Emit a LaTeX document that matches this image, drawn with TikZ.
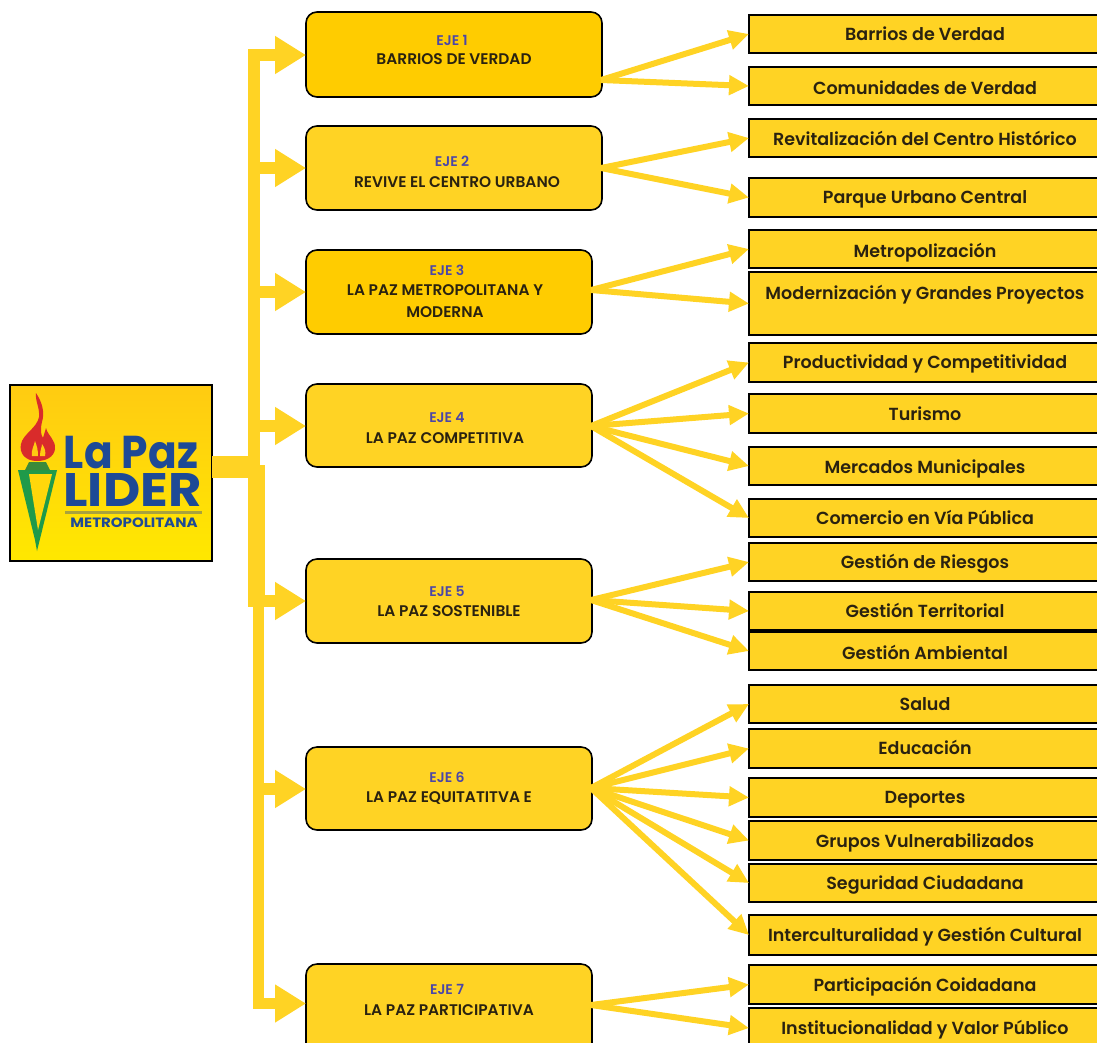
\documentclass[tikz,border=0pt]{standalone}
\usepackage{fontspec}
\setmainfont[BoldFont={Poppins SemiBold}]{Poppins}
\newfontfamily\logofont{Poppins Bold}
\usetikzlibrary{arrows.meta}
\definecolor{gold}{HTML}{FFD324}
\definecolor{amber}{HTML}{FFCC00}
\definecolor{inkblue}{HTML}{4A46A8}
\definecolor{logoblue}{HTML}{1E4A96}
\definecolor{ink}{HTML}{2A2210}
\definecolor{flamered}{HTML}{D92B2B}
\definecolor{conegreen}{HTML}{1F9A4A}
\definecolor{crowngreen}{HTML}{3C8A3A}
\definecolor{logotop}{HTML}{FFCB12}
\definecolor{logobot}{HTML}{FFE800}
\definecolor{rulecol}{HTML}{A9A23C}
\tikzset{
  rightbox/.style={draw=black,line width=1.6pt,fill=gold,anchor=north west,minimum width=353pt,inner sep=0pt,outer sep=0pt},
  leftbox/.style={draw=black,line width=1.6pt,rounded corners=11pt,anchor=north west,inner sep=0pt,outer sep=0pt},
  rtext/.style={font=\fontsize{17.5}{20}\selectfont\bfseries,text=ink,inner sep=0pt,text height=12pt,text depth=0pt},
  ltext/.style={font=\fontsize{15.4}{21.5}\selectfont\bfseries,text=ink,align=center,inner sep=0pt},
  thin arrow/.style={draw=gold,line width=6pt,-{Triangle[length=20pt,width=19pt]}},
  main arrow/.style={draw=gold,line width=11.5pt,-{Triangle[length=31pt,width=36pt]}},
  trunk/.style={fill=gold,draw=none},
}
\newcommand{\rb}[5]{\node[rightbox,minimum height={(#3-#2)*1pt}] (#1) at (749,#2) {};
  \node[rtext] (#1t) at (925,#4) {#5};}
\newcommand{\lb}[7]{\node[leftbox,fill=#4,minimum width={(#3-306)*1pt},minimum height={(#2)*1pt}] (#1) at (306,#5) {};
  \node[ltext] (#1t) at ({(#3+306)/2-2},#6) {\textcolor{inkblue}{\fontsize{14}{21}\selectfont EJE #7}};}
\begin{document}
\begin{tikzpicture}[x=1pt,y=-1pt]
\useasboundingbox (0,0) rectangle (1097,1042);
\fill[white] (0,0) rectangle (1097,1042);

% trunk
\fill[trunk] (248,49) rectangle (260,470);
\fill[trunk] (248,465) rectangle (265,607);
\fill[trunk] (253,600) rectangle (264,1009);

% logo
\node[draw=black,line width=1.6pt,minimum width=202pt,minimum height=176pt,anchor=north west,inner sep=0pt,outer sep=0pt,top color=logotop,bottom color=logobot] (logo) at (10,385) {};
\fill[gold] (212,456) rectangle (250,478);

% cone and flame
\fill[conegreen] (18,470) -- (57,470) -- (37,551) -- (35,540) -- cycle;
\fill[logotop!60!logobot] (29,474) -- (52,474) -- (38,530) -- cycle;
\fill[crowngreen] (25,470) -- (29,462) -- (46,462) -- (50,470) -- cycle;
\fill[flamered] (37,461) .. controls (25,461) and (19,453) .. (21,444)
  .. controls (23,434) and (37,428) .. (39,417)
  .. controls (40,408) and (35,401) .. (36,393)
  .. controls (42,402) and (45,412) .. (42,422)
  .. controls (40,430) and (41,435) .. (43,438)
  .. controls (44,434) and (45,432) .. (46,428)
  .. controls (48,436) and (56,440) .. (55,449)
  .. controls (54,457) and (46,461) .. (37,461) -- cycle;
\fill[logotop] (32,456) .. controls (31,450) and (34,446) .. (35,441)
  .. controls (37,446) and (38,450) .. (38,456) -- cycle;
\fill[logotop] (40,456) .. controls (40,450) and (42,447) .. (42,444)
  .. controls (45,448) and (46,452) .. (45,456) -- cycle;

\node[inner sep=0pt,text=logoblue,font=\logofont\fontsize{46}{46}\selectfont,text height=34pt,text depth=0pt] (lapaz) at (131,451) {\scalebox{0.92}[1]{La Paz}};
\node[inner sep=0pt,text=logoblue,font=\logofont\fontsize{47}{47}\selectfont,text height=33pt,text depth=0pt] (lider) at (132.5,490) {\scalebox{1.09}[1]{LIDER}};
\fill[rulecol] (65,510.5) rectangle (202,513.5);
\node[inner sep=0pt,text=logoblue,font=\logofont\fontsize{13.5}{14}\selectfont,text height=9pt,text depth=0pt] (metro) at (134,522.5) {\scalebox{1.11}[1]{METROPOLITANA}};

% left boxes
\lb{e1}{85}{602}{amber}{12}{40}{1}
\node[ltext] (n1) at (454,59) {BARRIOS DE VERDAD};
\lb{e2}{84}{602}{gold}{126}{161}{2}
\node[ltext] (n2) at (457,182) {REVIVE EL CENTRO URBANO};
\lb{e3}{84}{592}{amber}{250}{270}{3}
\node[ltext] (n3) at (445,301) {LA PAZ METROPOLITANA Y\\MODERNA};
\lb{e4}{83}{592}{gold}{384}{417}{4}
\node[ltext] (n4) at (445,438) {LA PAZ COMPETITIVA};
\lb{e5}{84}{592}{gold}{559}{591}{5}
\node[ltext] (n5) at (449,611) {LA PAZ SOSTENIBLE};
\lb{e6}{83}{592}{gold}{747}{777}{6}
\node[ltext] (n6) at (449,798) {LA PAZ EQUITATITVA E};
\lb{e7}{90}{592}{gold}{964}{989}{7}
\node[ltext] (n7) at (449,1010) {LA PAZ PARTICIPATIVA};

% right boxes
\rb{a1}{15}{53}{34}{Barrios de Verdad}
\rb{a2}{67}{105}{88}{Comunidades de Verdad}
\rb{b1}{119}{157}{139}{Revitalización del Centro Histórico}
\rb{b2}{178}{217}{197}{Parque Urbano Central}
\rb{c1}{230}{268}{251}{Metropolización}
\rb{c2}{272}{335}{293}{Modernización y Grandes Proyectos}
\rb{d1}{343}{382}{362}{Productividad y Competitividad}
\rb{d2}{394}{433}{414}{Turismo}
\rb{d3}{447}{485}{467}{Mercados Municipales}
\rb{d4}{499}{537}{518}{Comercio en Vía Pública}
\rb{f1}{543}{581}{562}{Gestión de Riesgos}
\rb{f2}{592}{630}{611}{Gestión Territorial}
\rb{f3}{632}{670}{653}{Gestión Ambiental}
\rb{g1}{685}{723}{704}{Salud}
\rb{g2}{729}{768}{748}{Educación}
\rb{g3}{778}{817}{797}{Deportes}
\rb{g4}{821}{860}{841}{Grupos Vulnerabilizados}
\rb{g5}{864}{902}{883}{Seguridad Ciudadana}
\rb{g6}{915}{955}{935}{Interculturalidad y Gestión Cultural}
\rb{h1}{965}{1004}{985}{Participación Coidadana}
\rb{h2}{1008}{1048}{1028}{Institucionalidad y Valor Público}

% trunk branches
\coordinate (t1) at (254,55); \coordinate (t2) at (254,168); \coordinate (t3) at (254,292);
\coordinate (t4) at (254,426); \coordinate (t5) at (254,601); \coordinate (t6) at (258,789);
\coordinate (t7) at (253,1003.5);
\draw[main arrow] (t1) -- (t1-|e1.west);
\draw[main arrow] (t2) -- (t2-|e2.west);
\draw[main arrow] (t3) -- (t3-|e3.west);
\draw[main arrow] (t4) -- (t4-|e4.west);
\draw[main arrow] (t5) -- (t5-|e5.west);
\draw[main arrow] (t6) -- (t6-|e6.west);
\draw[main arrow] (t7) -- (t7-|e7.west);

% fan-outs
\coordinate (s1) at (601,80); \coordinate (s2) at (601,168); \coordinate (s3) at (591,290);
\coordinate (s4) at (591,426); \coordinate (s5) at (591,600); \coordinate (s6) at (591,788);
\coordinate (s7) at (591,1005);
\foreach \s/\list in {s1/{a1,a2},s2/{b1,b2},s3/{c1,c2},s4/{d1,d2,d3,d4},s5/{f1,f2,f3},s6/{g1,g2,g3,g4,g5,g6},s7/{h1,h2}}{
  \foreach \t in \list { \draw[thin arrow] (\s) -- (\t.west); }
}
\end{tikzpicture}
\end{document}
